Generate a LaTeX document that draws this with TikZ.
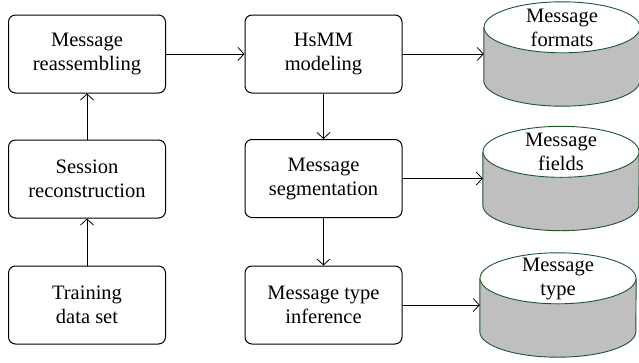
\documentclass[tikz,border=0pt]{standalone}
\usepackage{fontspec}
\setmainfont{Liberation Serif}
\usepackage{tikz}
\usetikzlibrary{arrows.meta}
\definecolor{dbline}{RGB}{30,85,45}
\definecolor{dbfill}{RGB}{191,191,191}
\tikzstyle{block} = [draw, rounded corners=7pt, line width=1pt, minimum width=157pt, minimum height=78pt, align=center, font=\fontsize{20.5}{24}\selectfont]
\tikzstyle{db} = [minimum width=156pt, minimum height=104pt, inner sep=0pt]
\tikzstyle{dbtext} = [align=center, inner sep=0pt, font=\fontsize{20.5}{24}\selectfont]
\tikzstyle{line} = [-{Straight Barb[length=6pt,width=13pt]}, line width=0.8pt]

\begin{document}
\begin{tikzpicture}[x=1pt, y=-1pt]
\useasboundingbox (0,0) rectangle (639,362);
% processing steps
\node[block] (reassembling) at (87,54) {Message\\reassembling};
\node[block] (session) at (87,179) {Session\\reconstruction};
\node[block] (training) at (87,305) {Training\\data set};
\node[block] (hsmm) at (323.5,54) {HsMM\\modeling};
\node[block] (segmentation) at (323.5,178.5) {Message\\segmentation};
\node[block] (inference) at (323.5,305) {Message type\\inference};
% outputs
\node[db] (formats) at (562,54) {};
\node[db] (fields) at (561,178.5) {};
\node[db] (msgtype) at (558,305) {};
\foreach \n in {formats,fields,msgtype}{
    \filldraw[fill=dbfill, draw=dbline, line width=0.9pt]
        ([yshift=-25.5pt]\n.north west) -- ([yshift=25.5pt]\n.south west)
        arc[start angle=180, end angle=360, x radius=78pt, y radius=25.5pt]
        -- ([yshift=-25.5pt]\n.north east);
    \filldraw[fill=white, draw=dbline, line width=0.9pt]
        ([yshift=-25.5pt]\n.north) ellipse[x radius=78pt, y radius=25.5pt];
}
\node[dbtext] (formats label) at ([yshift=-26pt]formats.north) {Message\\formats};
\node[dbtext] (fields label) at ([yshift=-26pt]fields.north) {Message\\fields};
\node[dbtext] (msgtype label) at ([yshift=-26pt]msgtype.north) {Message\\type};
% connectors
\draw[line] (training) -- (session);
\draw[line] (session) -- (reassembling);
\draw[line] (reassembling) -- (hsmm);
\draw[line] (hsmm) -- (segmentation);
\draw[line] (segmentation) -- (inference);
\draw[line] (hsmm) -- (formats);
\draw[line] (segmentation) -- (fields);
\draw[line] (inference) -- (msgtype);
\end{tikzpicture}
\end{document}
